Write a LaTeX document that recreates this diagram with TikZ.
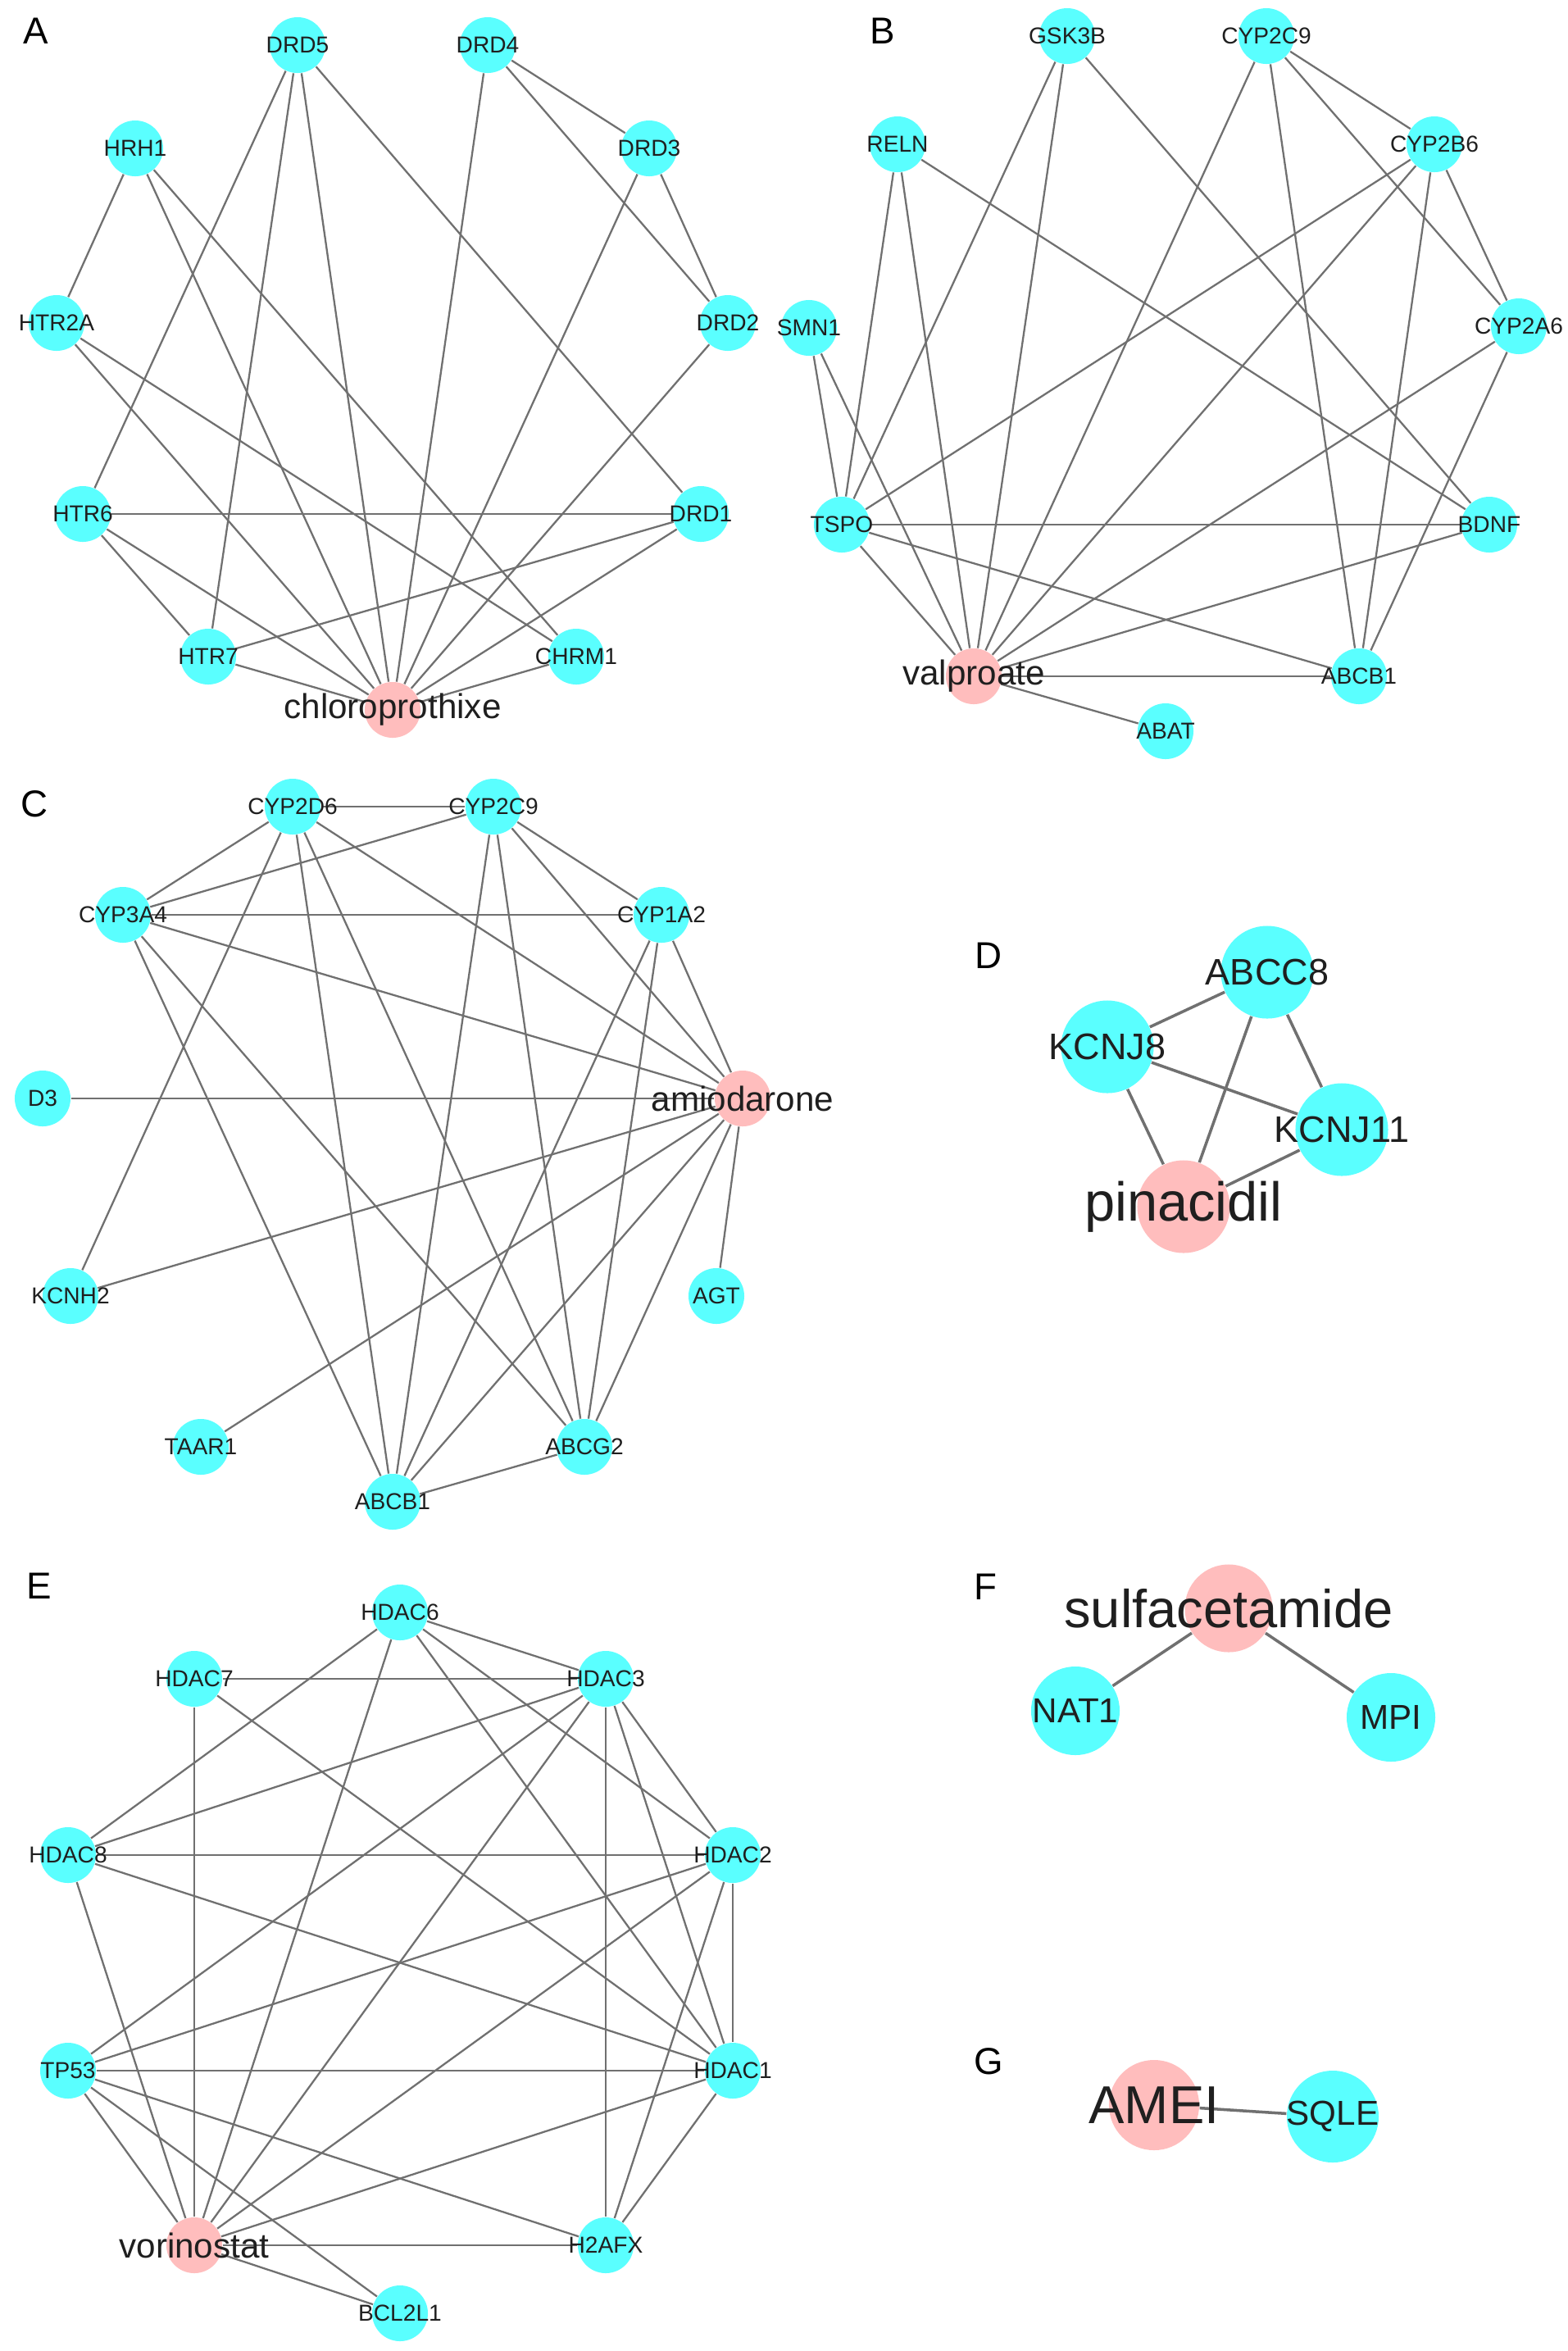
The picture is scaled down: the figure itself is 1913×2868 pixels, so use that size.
\documentclass[tikz,border=0pt]{standalone}
\usepackage{fontspec}
\setmainfont{Liberation Sans}

\definecolor{genecyan}{RGB}{90,255,255}
\definecolor{drugpink}{RGB}{255,189,189}
\definecolor{edgegray}{RGB}{112,112,112}
\pgfdeclarelayer{edges}
\pgfsetlayers{edges,main}

\begin{document}
\begin{tikzpicture}[x=0.01cm, y=-0.01cm,
  genetext/.style={font=\fontsize{8}{8}\selectfont, inner sep=0pt, text=black!88},
  drugtext/.style={font=\fontsize{12}{12}\selectfont, inner sep=0pt, text=black!88},
  gene/.style={circle, fill=genecyan, inner sep=0pt, minimum size=0.68cm, label={[genetext]center:#1}},
  drug/.style={circle, fill=drugpink, inner sep=0pt, minimum size=0.68cm, label={[drugtext]center:#1}},
  disc/.style={minimum size=#1},
  link/.style={draw=edgegray, line width=0.65pt},
  panel/.style={font=\fontsize{13}{13}\selectfont, inner sep=0pt}]

\useasboundingbox (0,0) rectangle (1913,2868);

\node[panel] (lblA) at (44,38) {A};
\node[panel] (lblB) at (1077,38) {B};
\node[panel] (lblC) at (42,981) {C};
\node[panel] (lblD) at (1206,1166) {D};
\node[panel] (lblE) at (48,1935) {E};
\node[panel] (lblF) at (1202,1936) {F};
\node[panel] (lblG) at (1206,2515) {G};

\node[gene=DRD5] (a-drd5) at (363,55) {};
\node[gene=DRD4] (a-drd4) at (595,55) {};
\node[gene=HRH1] (a-hrh1) at (165,181) {};
\node[gene=DRD3] (a-drd3) at (792,181) {};
\node[gene=HTR2A] (a-htr2a) at (69,394) {};
\node[gene=DRD2] (a-drd2) at (888,394) {};
\node[gene=HTR6] (a-htr6) at (101,627) {};
\node[gene=DRD1] (a-drd1) at (855,627) {};
\node[gene=HTR7] (a-htr7) at (254,801) {};
\node[gene=CHRM1] (a-chrm1) at (703,801) {};
\node[drug=chloroprothixe] (a-drug) at (479,866) {};

\node[gene=GSK3B] (b-gsk3b) at (1302,44) {};
\node[gene=CYP2C9] (b-cyp2c9) at (1545,44) {};
\node[gene=RELN] (b-reln) at (1095,176) {};
\node[gene=CYP2B6] (b-cyp2b6) at (1750,176) {};
\node[gene=SMN1] (b-smn1) at (987,400) {};
\node[gene=CYP2A6] (b-cyp2a6) at (1853,398) {};
\node[gene=TSPO] (b-tspo) at (1027,640) {};
\node[gene=BDNF] (b-bdnf) at (1817,640) {};
\node[drug=valproate] (b-drug) at (1188,825) {};
\node[gene=ABCB1] (b-abcb1) at (1658,825) {};
\node[gene=ABAT] (b-abat) at (1422,892) {};

\node[gene=CYP2D6] (c-cyp2d6) at (357,984) {};
\node[gene=CYP2C9] (c-cyp2c9) at (602,984) {};
\node[gene=CYP3A4] (c-cyp3a4) at (150,1116) {};
\node[gene=CYP1A2] (c-cyp1a2) at (807,1116) {};
\node[gene=D3] (c-d3) at (52,1340) {};
\node[drug=amiodarone] (c-drug) at (906,1340) {};
\node[gene=KCNH2] (c-kcnh2) at (86,1581) {};
\node[gene=AGT] (c-agt) at (874,1581) {};
\node[gene=TAAR1] (c-taar1) at (245,1765) {};
\node[gene=ABCG2] (c-abcg2) at (713,1765) {};
\node[gene=ABCB1] (c-abcb1) at (479,1832) {};

\begin{scope}[genetext/.append style={font=\fontsize{12.8}{12.8}\selectfont},
  drugtext/.append style={font=\fontsize{19}{19}\selectfont}]
\node[gene=ABCC8, disc=1.13cm] (d-abcc8) at (1546,1186) {};
\node[gene=KCNJ8, disc=1.13cm] (d-kcnj8) at (1351,1277) {};
\node[gene=KCNJ11, disc=1.13cm] (d-kcnj11) at (1637,1378) {};
\node[drug=pinacidil, disc=1.13cm] (d-drug) at (1444,1472) {};
\end{scope}

\node[gene=HDAC6] (e-hdac6) at (488,1967) {};
\node[gene=HDAC7] (e-hdac7) at (237,2048) {};
\node[gene=HDAC3] (e-hdac3) at (739,2048) {};
\node[gene=HDAC8] (e-hdac8) at (83,2263) {};
\node[gene=HDAC2] (e-hdac2) at (894,2263) {};
\node[gene=TP53] (e-tp53) at (83,2526) {};
\node[gene=HDAC1] (e-hdac1) at (894,2526) {};
\node[drug=vorinostat] (e-drug) at (237,2739) {};
\node[gene=H2AFX] (e-h2afx) at (739,2739) {};
\node[gene=BCL2L1] (e-bcl2l1) at (488,2822) {};

\begin{scope}[genetext/.append style={font=\fontsize{12}{12}\selectfont},
  drugtext/.append style={font=\fontsize{18.5}{18.5}\selectfont}]
\node[drug=sulfacetamide, disc=1.07cm] (f-drug) at (1499,1962) {};
\node[gene=NAT1, disc=1.08cm] (f-nat1) at (1312,2087) {};
\node[gene=MPI, disc=1.08cm] (f-mpi) at (1697,2095) {};
\node[drug=AMEI, disc=1.10cm] (g-drug) at (1408,2568) {};
\node[gene=SQLE, disc=1.12cm] (g-sqle) at (1626,2582) {};
\end{scope}

\begin{pgfonlayer}{edges}
\fill[white] (0,0) rectangle (1913,2868);
\foreach \u/\v in {hrh1/htr2a, hrh1/drug, hrh1/chrm1, drd5/htr6, drd5/htr7, drd5/drug,
  drd5/drd1, drd4/drug, drd4/drd3, drd4/drd2, drd3/drd2, drd3/drug, drd2/drug,
  htr2a/drug, htr2a/chrm1, htr6/drd1, htr6/htr7, htr6/drug, htr7/drd1, htr7/drug,
  chrm1/drug, drd1/drug}
  \draw[link] (a-\u) -- (a-\v);
\foreach \u/\v in {gsk3b/tspo, gsk3b/drug, gsk3b/bdnf, cyp2c9/drug, cyp2c9/abcb1,
  cyp2c9/cyp2b6, cyp2c9/cyp2a6, reln/tspo, reln/drug, reln/bdnf, cyp2b6/tspo,
  cyp2b6/drug, cyp2b6/abcb1, cyp2b6/cyp2a6, smn1/tspo, smn1/drug, cyp2a6/drug,
  cyp2a6/abcb1, tspo/bdnf, tspo/drug, tspo/abcb1, bdnf/drug, drug/abcb1, drug/abat}
  \draw[link] (b-\u) -- (b-\v);
\foreach \u/\v in {cyp2d6/cyp2c9, cyp2d6/cyp3a4, cyp2d6/kcnh2, cyp2d6/abcb1,
  cyp2d6/abcg2, cyp2d6/drug, cyp2c9/cyp3a4, cyp2c9/cyp1a2, cyp2c9/drug, cyp2c9/abcb1,
  cyp2c9/abcg2, cyp3a4/cyp1a2, cyp3a4/drug, cyp3a4/abcb1, cyp3a4/abcg2, cyp1a2/drug,
  cyp1a2/abcb1, cyp1a2/abcg2, d3/drug, kcnh2/drug, agt/drug, taar1/drug, abcg2/drug,
  abcb1/drug, abcb1/abcg2}
  \draw[link] (c-\u) -- (c-\v);
\foreach \u/\v in {abcc8/kcnj8, abcc8/kcnj11, abcc8/drug, kcnj8/kcnj11, kcnj8/drug,
  kcnj11/drug}
  \draw[link, line width=1pt] (d-\u) -- (d-\v);
\foreach \u/\v in {hdac6/hdac8, hdac6/drug, hdac6/hdac3, hdac6/hdac2, hdac6/hdac1,
  hdac7/hdac3, hdac7/drug, hdac7/hdac1, hdac3/hdac8, hdac3/tp53, hdac3/drug,
  hdac3/hdac2, hdac3/hdac1, hdac3/h2afx, hdac8/hdac2, hdac8/hdac1, hdac8/drug,
  hdac2/tp53, hdac2/drug, hdac2/hdac1, hdac2/h2afx, tp53/hdac1, tp53/drug,
  tp53/h2afx, tp53/bcl2l1, hdac1/drug, hdac1/h2afx, drug/h2afx, drug/bcl2l1}
  \draw[link] (e-\u) -- (e-\v);
\draw[link, line width=1pt] (f-drug) -- (f-nat1);
\draw[link, line width=1pt] (f-drug) -- (f-mpi);
\draw[link, line width=1pt] (g-drug) -- (g-sqle);
\end{pgfonlayer}

\end{tikzpicture}
\end{document}
